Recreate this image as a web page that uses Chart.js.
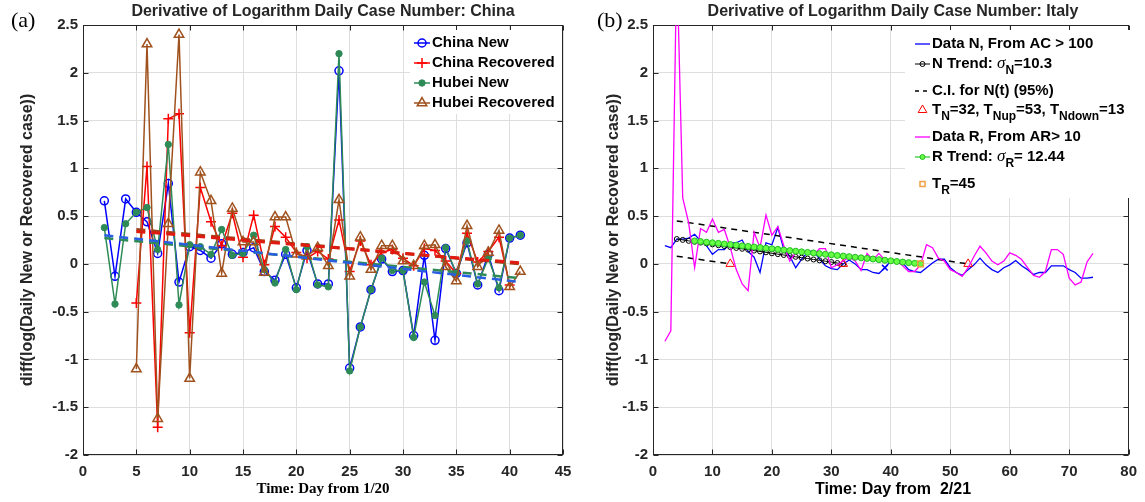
<!DOCTYPE html>
<html>
<head>
<meta charset="utf-8">
<script src="https://cdn.jsdelivr.net/npm/chart.js@4"></script>
<style>
  body { margin: 0; background: #fff; width: 1145px; height: 502px; overflow: hidden; position: relative; }
  .box { position: absolute; top: 0; height: 502px; }
</style>
</head>
<body>
<div class="box" style="left:0;width:580px"><canvas id="chartA" width="580" height="502"></canvas></div>
<div class="box" style="left:580px;width:565px"><canvas id="chartB" width="565" height="502"></canvas></div>
<script>
// ---- panel (a): China / Hubei ----
const dayA = [2,3,4,5,6,7,8,9,10,11,12,13,14,15,16,17,18,19,20,21,22,23,24,25,26,27,28,29,30,31,32,33,34,35,36,37,38,39,40,41];
const chinaNew = [0.66,-0.13,0.68,0.54,0.44,0.11,0.84,-0.19,0.18,0.14,0.06,0.21,0.10,0.12,0.17,-0.08,-0.17,0.10,-0.25,0.14,-0.21,-0.21,2.02,-1.09,-0.66,-0.27,0.05,-0.08,-0.07,-0.75,0.09,-0.80,0.16,-0.10,0.22,-0.22,0.10,-0.28,0.27,0.30];
const chinaRec = [null,null,null,-0.41,1.02,-1.71,1.52,1.57,-0.72,0.80,0.44,0.19,0.53,0.07,0.51,-0.01,0.39,0.28,0.12,0.06,0.13,0.05,0.46,-0.08,0.24,-0.01,0.12,0.15,0.06,-0.02,0.16,0.14,0.03,-0.10,0.32,0.02,0.13,0.28,-0.22,null];
const hubeiNew = [0.38,-0.42,0.42,0.54,0.59,0.15,1.25,-0.43,0.20,0.18,0.10,0.36,0.09,0.11,0.30,-0.06,-0.20,0.15,-0.27,0.18,-0.22,-0.24,2.20,-1.12,-0.66,-0.27,0.06,-0.07,-0.07,-0.77,-0.19,-0.54,0.17,-0.10,0.24,-0.21,0.06,-0.25,0.27,0.30];
const hubeiRec = [null,null,null,-1.10,2.30,-1.62,0.42,2.40,-1.20,0.96,0.66,-0.10,0.58,0.23,0.23,-0.09,0.49,0.49,0.10,0.08,0.17,-0.02,0.67,-0.13,0.28,-0.06,0.19,0.19,0.03,-0.02,0.19,0.20,-0.03,-0.18,0.40,-0.03,0.12,0.35,-0.24,-0.08];
const chinaNewFitX = [2, 41], chinaNewFitY = [0.30, -0.19];
const hubeiNewFitX = [2, 41], hubeiNewFitY = [0.27, -0.15];
const chinaRecFitX = [5, 41], chinaRecFitY = [0.34, 0.01];
const hubeiRecFitX = [5, 41], hubeiRecFitY = [0.36, 0.00];
const xTicksA = [0,5,10,15,20,25,30,35,40,45];

// ---- panel (b): Italy ----
const dayB = [2,3,4,5,6,7,8,9,10,11,12,13,14,15,16,17,18,19,20,21,22,23,24,25,26,27,28,29,30,31,32,33,34,35,36,37,38,39,40,41,42,43,44,45,46,47,48,49,50,51,52,53,54,55,56,57,58,59,60,61,62,63,64,65,66,67,68,69,70,71,72,73,74];
const italyN = [0.19,0.17,0.26,0.26,0.27,0.31,0.24,0.19,0.10,0.15,0.15,0.22,0.22,0.25,0.13,0.07,-0.09,0.22,0.20,0.38,0.15,0.08,-0.04,0.05,0.12,0.14,0.05,-0.02,-0.05,-0.06,0.00,0.04,0.00,-0.06,-0.06,-0.09,-0.10,-0.04,0.03,0.05,0.01,-0.06,-0.08,-0.09,-0.04,0.01,0.05,0.05,-0.04,-0.09,-0.12,-0.06,-0.01,0.06,-0.01,-0.06,-0.09,-0.04,-0.01,0.035,-0.02,-0.06,-0.11,-0.09,-0.09,-0.02,-0.02,-0.02,-0.06,-0.09,-0.15,-0.15,-0.14];
const italyR = [-0.81,-0.70,3.2,0.69,0.43,-0.04,0.37,0.33,0.47,0.33,0.36,0.17,-0.06,-0.21,-0.28,0.33,0.17,0.51,0.30,0.39,0.19,0.03,0.12,0.12,0.13,0.09,0.16,0.16,-0.04,-0.01,0.03,0.07,0.03,-0.07,0.11,0.045,0.11,0.04,0.03,0.03,-0.02,-0.08,-0.08,-0.01,0.20,0.17,0.06,0.03,-0.06,-0.09,-0.13,-0.04,0.08,0.185,0.115,0.03,-0.01,0.03,0.115,0.09,0.045,-0.04,-0.12,-0.14,-0.08,0.15,0.15,0.10,-0.15,-0.22,-0.19,0.02,0.11];
const nTrendX = [4,5,6,7,8,9,10,11,12,13,14,15,16,17,18,19,20,21,22,23,24,25,26,27,28,29,30,31,32];
const nTrendY = [0.26,0.251,0.241,0.232,0.223,0.214,0.204,0.195,0.186,0.176,0.167,0.158,0.149,0.139,0.130,0.121,0.111,0.102,0.093,0.084,0.074,0.065,0.056,0.046,0.037,0.028,0.019,0.009,0.0];
const rTrendX = [7,8,9,10,11,12,13,14,15,16,17,18,19,20,21,22,23,24,25,26,27,28,29,30,31,32,33,34,35,36,37,38,39,40,41,42,43,44,45];
const rTrendY = [0.24,0.234,0.227,0.221,0.215,0.208,0.202,0.196,0.189,0.183,0.177,0.171,0.164,0.158,0.152,0.145,0.139,0.133,0.126,0.12,0.114,0.107,0.101,0.095,0.088,0.082,0.076,0.069,0.063,0.057,0.051,0.044,0.038,0.032,0.025,0.019,0.013,0.006,0.0];
const ciUpX = [4, 53], ciUpY = [0.45, 0.0];
const ciLowX = [4, 13], ciLowY = [0.08, 0.0];
const tnX = [13, 32, 53], tnY = [0, 0, 0];
const trX = [45], trY = [0];
const markX = [39], markY = [-0.04];
const xTicksB = [0,10,20,30,40,50,60,70,80];
const yTicks = [-2,-1.5,-1,-0.5,0,0.5,1,1.5,2,2.5];

const SANS = '"Liberation Sans", Arial, sans-serif';
const SERIF = '"Liberation Serif", "Times New Roman", serif';
const INK = '#262626';

const pts = (xs, ys) => xs.map((x, i) => ({ x: x, y: ys[i] }));

function lineDs(label, xs, ys, color, extra) {
    return Object.assign({
        label: label, data: pts(xs, ys), borderColor: color, backgroundColor: color,
        borderWidth: 1.5, pointRadius: 0, tension: 0, spanGaps: false
    }, extra);
}

function richText(ctx, parts, x, y, size) {
    let cx = x;
    parts.forEach(function (p) {
        let t = p, font = 'bold ' + size + 'px ' + SANS, dy = 0;
        if (typeof p === 'object') {
            t = p.t;
            if (p.sub) { font = 'bold ' + Math.round(size * 0.78) + 'px ' + SANS; dy = size * 0.42; }
            if (p.sym) { font = 'italic ' + (size + 2) + 'px ' + SERIF; }
        }
        ctx.font = font;
        ctx.fillText(t, cx, y + dy);
        cx += ctx.measureText(t).width;
    });
}

// frame, inner ticks, titles and legend
const deco = {
    id: 'deco',
    beforeDatasetsDraw(chart) {
        const { ctx, chartArea: a } = chart;
        ctx.save();
        ctx.strokeStyle = INK;
        ctx.lineWidth = 1;
        const l = Math.round(a.left) + 0.5, r = Math.round(a.right) - 0.5;
        const t = Math.round(a.top) + 0.5, b = Math.round(a.bottom) - 0.5;
        ctx.strokeRect(l, t, r - l, b - t);
        ctx.beginPath();
        chart.scales.x.ticks.forEach(function (tk) {
            const px = Math.round(chart.scales.x.getPixelForValue(tk.value)) + 0.5;
            ctx.moveTo(px, b); ctx.lineTo(px, b - 5);
            ctx.moveTo(px, t); ctx.lineTo(px, t + 5);
        });
        chart.scales.y.ticks.forEach(function (tk) {
            const py = Math.round(chart.scales.y.getPixelForValue(tk.value)) + 0.5;
            ctx.moveTo(l, py); ctx.lineTo(l + 5, py);
            ctx.moveTo(r, py); ctx.lineTo(r - 5, py);
        });
        ctx.stroke();
        ctx.restore();
    },
    afterDraw(chart, args, o) {
        const ctx = chart.ctx;
        ctx.save();
        ctx.fillStyle = '#000';
        ctx.textBaseline = 'middle';

        ctx.font = '22px ' + SERIF;
        ctx.textAlign = 'left';
        ctx.fillText(o.letter, o.letterX, 21);

        ctx.textAlign = 'center';
        ctx.fillStyle = INK;
        ctx.font = 'bold 16px ' + SANS;
        ctx.fillText(o.title, o.titleX, 12);
        ctx.font = o.xFont;
        ctx.fillStyle = '#000';
        ctx.fillText(o.xTitle, o.titleX, o.xTitleY);

        ctx.save();
        ctx.translate(o.yTitleX, 240);
        ctx.rotate(-Math.PI / 2);
        ctx.fillStyle = INK;
        ctx.font = 'bold 16px ' + SANS;
        ctx.fillText('diff(log(Daily New or Recovered case))', 0, 0);
        ctx.restore();

        // legend
        const lg = o.legend;
        ctx.fillStyle = '#fff';
        ctx.fillRect(lg.box[0], lg.box[1], lg.box[2], lg.box[3]);
        ctx.textAlign = 'left';
        lg.items.forEach(function (e) {
            if (e.line) {
                ctx.strokeStyle = e.line;
                ctx.lineWidth = e.width || 1.5;
                ctx.setLineDash(e.dash || []);
                ctx.beginPath();
                ctx.moveTo(lg.x0, e.y); ctx.lineTo(lg.x1, e.y);
                ctx.stroke();
                ctx.setLineDash([]);
            }
            if (e.marker) {
                ctx.strokeStyle = e.marker.color;
                ctx.fillStyle = e.marker.fill || 'rgba(0,0,0,0)';
                ctx.lineWidth = e.marker.bw || 1.5;
                Chart.helpers.drawPoint(ctx, { pointStyle: e.marker.style, radius: e.marker.r, rotation: 0, borderWidth: ctx.lineWidth }, (lg.x0 + lg.x1) / 2, e.y);
            }
            ctx.fillStyle = '#000';
            richText(ctx, e.parts, lg.tx, e.y, 15);
        });
        ctx.restore();
    }
};

function axes(xTicks, xMax) {
    const tickFont = { family: SANS, size: 15, weight: 'bold' };
    return {
        x: {
            type: 'linear', min: 0, max: xMax,
            afterBuildTicks: function (s) { s.ticks = xTicks.map(function (v) { return { value: v }; }); },
            afterFit: function (s) { s.height = 47; },
            grid: { color: '#dedede', drawTicks: false },
            border: { display: false },
            ticks: { color: INK, font: tickFont, padding: 8, maxRotation: 0, callback: function (v) { return String(v); } }
        },
        y: {
            type: 'linear', min: -2, max: 2.5,
            afterBuildTicks: function (s) { s.ticks = yTicks.map(function (v) { return { value: v }; }); },
            grid: { color: '#dedede', drawTicks: false },
            border: { display: false },
            ticks: { color: INK, font: tickFont, padding: 5, callback: function (v) { return String(v); } }
        }
    };
}

// panel (a)
const scalesA = axes(xTicksA, 45);
scalesA.y.afterFit = function (s) { s.width = 83; };
new Chart(document.getElementById('chartA').getContext('2d'), {
    type: 'line',
    data: {
        datasets: [
            lineDs('China New', dayA, chinaNew, '#0000ff', { pointStyle: 'circle', pointRadius: 4, pointBorderWidth: 1.5, pointBackgroundColor: 'rgba(0,0,0,0)', pointBorderColor: '#0000ff', order: 4 }),
            lineDs('China Recovered', dayA, chinaRec, '#ff0000', { pointStyle: 'cross', pointRadius: 5, pointBorderWidth: 1.5, pointBorderColor: '#ff0000', order: 3 }),
            lineDs('Hubei New', dayA, hubeiNew, '#2e8b57', { pointStyle: 'circle', pointRadius: 3.2, pointBorderWidth: 1, pointBackgroundColor: '#2e8b57', pointBorderColor: '#2e8b57', order: 2 }),
            lineDs('Hubei Recovered', dayA, hubeiRec, '#a0521e', { pointStyle: 'triangle', pointRadius: 5.5, pointBorderWidth: 1.5, pointBackgroundColor: 'rgba(0,0,0,0)', pointBorderColor: '#a0521e', order: 1 }),
            lineDs('fit China New', chinaNewFitX, chinaNewFitY, '#2a5ee0', { borderDash: [9, 6], borderWidth: 2.5, order: 0 }),
            lineDs('fit Hubei New', hubeiNewFitX, hubeiNewFitY, '#2e8b57', { borderDash: [9, 6], borderWidth: 2.5, order: 0 }),
            lineDs('fit China Recovered', chinaRecFitX, chinaRecFitY, '#e01a10', { borderDash: [9, 6], borderWidth: 3, order: 0 }),
            lineDs('fit Hubei Recovered', hubeiRecFitX, hubeiRecFitY, '#a0421a', { borderDash: [9, 6], borderWidth: 3, order: 0 })
        ]
    },
    options: {
        responsive: false,
        animation: false,
        layout: { padding: { left: 0, top: 25, right: 17, bottom: 0 } },
        scales: scalesA,
        plugins: {
            legend: { display: false },
            tooltip: { enabled: false },
            deco: {
                letter: '(a)', letterX: 11,
                title: 'Derivative of Logarithm Daily Case Number: China', titleX: 323,
                xTitle: 'Time: Day from 1/20', xTitleY: 489, xFont: 'bold 15px ' + SERIF,
                yTitleX: 28,
                legend: {
                    box: [410, 30, 152, 84], x0: 414, x1: 430, tx: 432,
                    items: [
                        { y: 43, line: '#0000ff', marker: { style: 'circle', r: 4, color: '#0000ff' }, parts: ['China New'] },
                        { y: 63, line: '#ff0000', marker: { style: 'cross', r: 5, color: '#ff0000' }, parts: ['China Recovered'] },
                        { y: 83, line: '#2e8b57', marker: { style: 'circle', r: 3.2, color: '#2e8b57', fill: '#2e8b57', bw: 1 }, parts: ['Hubei New'] },
                        { y: 103, line: '#a0521e', marker: { style: 'triangle', r: 5.5, color: '#a0521e' }, parts: ['Hubei Recovered'] }
                    ]
                }
            }
        }
    },
    plugins: [deco]
});

// panel (b)
const scalesB = axes(xTicksB, 80);
scalesB.y.afterFit = function (s) { s.width = 73; };
new Chart(document.getElementById('chartB').getContext('2d'), {
    type: 'line',
    data: {
        datasets: [
            lineDs('Data N, From AC > 100', dayB, italyN, '#0000ff', { borderWidth: 1.3, order: 8 }),
            lineDs('N Trend', nTrendX, nTrendY, '#000000', { borderWidth: 1, pointStyle: 'circle', pointRadius: 2.5, pointBorderWidth: 1, pointBackgroundColor: 'rgba(0,0,0,0)', pointBorderColor: '#000', order: 7 }),
            lineDs('C.I. upper', ciUpX, ciUpY, '#000000', { borderDash: [6, 5], borderWidth: 1.5, order: 6 }),
            lineDs('C.I. lower', ciLowX, ciLowY, '#000000', { borderDash: [6, 5], borderWidth: 1.5, order: 6 }),
            lineDs('T_N', tnX, tnY, '#ff0000', { showLine: false, pointStyle: 'triangle', pointRadius: 5, pointBorderWidth: 1, pointBackgroundColor: 'rgba(0,0,0,0)', pointBorderColor: '#ff0000', order: 5 }),
            lineDs('Data R, From AR> 10', dayB, italyR, '#ff00ff', { borderWidth: 1.3, order: 4 }),
            lineDs('R Trend', rTrendX, rTrendY, '#22cc22', { borderWidth: 1.2, pointStyle: 'circle', pointRadius: 3, pointBorderWidth: 1, pointBackgroundColor: '#66ff44', pointBorderColor: '#22bb22', order: 3 }),
            lineDs('T_R', trX, trY, '#f0a040', { showLine: false, pointStyle: 'rect', pointRadius: 4, pointBorderWidth: 1.5, pointBackgroundColor: 'rgba(0,0,0,0)', pointBorderColor: '#f0a040', order: 2 }),
            lineDs('mark', markX, markY, '#0000ff', { showLine: false, pointStyle: 'crossRot', pointRadius: 4, pointBorderWidth: 1.5, pointBorderColor: '#0000ff', order: 1 })
        ]
    },
    options: {
        responsive: false,
        animation: false,
        layout: { padding: { left: 0, top: 25, right: 12, bottom: 0 } },
        scales: scalesB,
        plugins: {
            legend: { display: false },
            tooltip: { enabled: false },
            deco: {
                letter: '(b)', letterX: 17,
                title: 'Derivative of Logarithm Daily Case Number: Italy', titleX: 313,
                xTitle: 'Time: Day from  2/21', xTitleY: 490, xFont: 'bold 16px ' + SANS,
                yTitleX: 34,
                legend: {
                    box: [325, 30, 227, 168], x0: 335, x1: 350, tx: 352,
                    items: [
                        { y: 44, line: '#0000ff', width: 1.3, parts: ['Data N, From AC > 100'] },
                        { y: 64, line: '#000', width: 1, marker: { style: 'circle', r: 2.5, color: '#000', bw: 1 }, parts: ['N Trend: ', { t: 'σ', sym: true }, { t: 'N', sub: true }, '=10.3'] },
                        { y: 91, line: '#000', dash: [4, 4], parts: ['C.I. for N(t) (95%)'] },
                        { y: 110, marker: { style: 'triangle', r: 5, color: '#ff0000', bw: 1 }, parts: ['T', { t: 'N', sub: true }, '=32, T', { t: 'Nup', sub: true }, '=53, T', { t: 'Ndown', sub: true }, '=13'] },
                        { y: 137, line: '#ff00ff', width: 1.3, parts: ['Data R, From AR> 10'] },
                        { y: 157, line: '#22cc22', width: 1.2, marker: { style: 'circle', r: 2.5, color: '#22bb22', fill: '#66ff44', bw: 1 }, parts: ['R Trend: ', { t: 'σ', sym: true }, { t: 'R', sub: true }, '= 12.44'] },
                        { y: 184, marker: { style: 'rect', r: 3.5, color: '#f0a040', bw: 1.5 }, parts: ['T', { t: 'R', sub: true }, '=45'] }
                    ]
                }
            }
        }
    },
    plugins: [deco]
});
</script>
</body>
</html>
